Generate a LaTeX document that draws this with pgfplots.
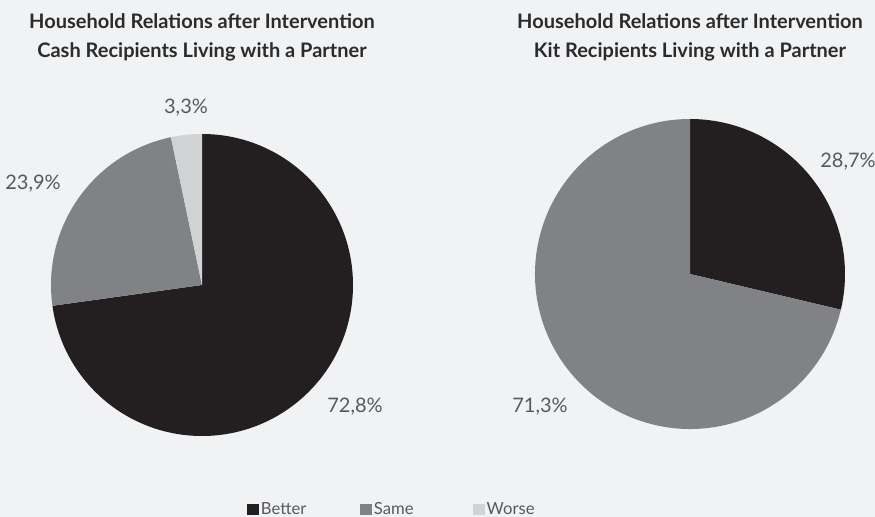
\documentclass[border=0pt]{standalone}
\usepackage{fontspec}
\setmainfont{Lato}
\usepackage{pgfplots}
\pgfplotsset{compat=1.18}
\definecolor{cBetter}{HTML}{231F20}
\definecolor{cSame}{HTML}{818285}
\definecolor{cWorse}{HTML}{D1D2D4}
\definecolor{bg}{HTML}{F1F2F4}
\definecolor{ttl}{HTML}{2B2B2B}
\definecolor{lbl}{HTML}{58595B}
% data (percent)
\def\cashBetter{72.8}\def\cashSame{23.9}\def\cashWorse{3.3}
\def\kitBetter{28.7}\def\kitSame{71.3}
\pgfmathsetmacro{\cA}{90-3.6*\cashBetter}
\pgfmathsetmacro{\cB}{\cA-3.6*\cashSame}
\pgfmathsetmacro{\cC}{\cB-3.6*\cashWorse}
\pgfmathsetmacro{\kA}{90-3.6*\kitBetter}
\pgfmathsetmacro{\kB}{\kA-3.6*\kitSame}
\begin{document}
\begin{tikzpicture}
\fill[bg] (0,0) rectangle (656.25pt,387.75pt);
\begin{axis}[hide axis, scale only axis, x=0.75pt, y=0.75pt, xmin=0, xmax=875, ymin=0, ymax=517,
  clip=false, at={(0,0)}, anchor=south west,
  legend columns=3,
  legend style={draw=none, fill=none, inner sep=0pt, at={(axis cs:247,8)}, anchor=west,
    font=\fontsize{12.5}{14}\selectfont, text=lbl, /tikz/every even column/.append style={column sep=0pt}},
  ]
\addlegendimage{legend image code/.code={\fill[cBetter] (0pt,-3.9pt) rectangle (7.8pt,3.9pt);}}
\addlegendentry{\makebox[72.5pt][l]{Better\strut}}
\addlegendimage{legend image code/.code={\fill[cSame] (0pt,-3.9pt) rectangle (7.8pt,3.9pt);}}
\addlegendentry{\makebox[72.5pt][l]{Same\strut}}
\addlegendimage{legend image code/.code={\fill[cWorse] (0pt,-3.9pt) rectangle (7.8pt,3.9pt);}}
\addlegendentry{\makebox[40pt][l]{Worse\strut}}
% left pie: centre (202,232), radius 151
\fill[cBetter] (axis cs:202,232) -- (axis cs:{202+151*cos(90)},{232+151*sin(90)}) arc[start angle=90, end angle=\cA, radius=113.25pt] -- cycle;
\fill[cSame] (axis cs:202,232) -- (axis cs:{202+151*cos(\cA)},{232+151*sin(\cA)}) arc[start angle=\cA, end angle=\cB, radius=113.25pt] -- cycle;
\fill[cWorse] (axis cs:202,232) -- (axis cs:{202+151*cos(\cB)},{232+151*sin(\cB)}) arc[start angle=\cB, end angle=\cC, radius=113.25pt] -- cycle;
\node[text=lbl, font=\fontsize{15}{18}\selectfont] at (axis cs:186,409) {3,3\%};
\node[text=lbl, font=\fontsize{15}{18}\selectfont] at (axis cs:33,333) {23,9\%};
\node[text=lbl, font=\fontsize{15}{18}\selectfont] at (axis cs:355,110) {72,8\%};
\node[text=ttl, font=\bfseries\fontsize{15}{21.75}\selectfont, align=center] at (axis cs:202,480)
  {Household Relations after Intervention\\Cash Recipients Living with a Partner};
% right pie: centre (690,243), radius 155
\fill[cBetter] (axis cs:690,243) -- (axis cs:{690+155*cos(90)},{243+155*sin(90)}) arc[start angle=90, end angle=\kA, radius=116.25pt] -- cycle;
\fill[cSame] (axis cs:690,243) -- (axis cs:{690+155*cos(\kA)},{243+155*sin(\kA)}) arc[start angle=\kA, end angle=\kB, radius=116.25pt] -- cycle;
\node[text=lbl, font=\fontsize{15}{18}\selectfont] at (axis cs:848,355) {28,7\%};
\node[text=lbl, font=\fontsize{15}{18}\selectfont] at (axis cs:540,110) {71,3\%};
\node[text=ttl, font=\bfseries\fontsize{15}{21.75}\selectfont, align=center] at (axis cs:690,480)
  {Household Relations after Intervention\\Kit Recipients Living with a Partner};
\end{axis}
\pgfresetboundingbox
\useasboundingbox (0,0) rectangle (656.25pt,387.75pt);
\end{tikzpicture}
\end{document}
